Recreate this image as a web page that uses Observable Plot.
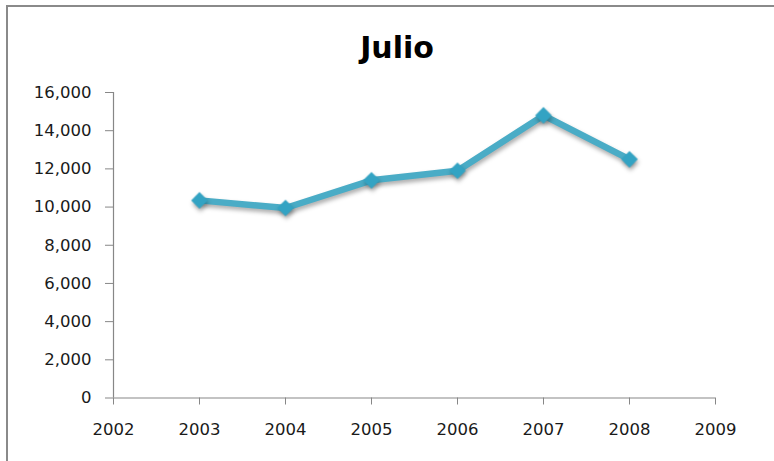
<!DOCTYPE html>
<html>
<head>
<meta charset="utf-8">
<script src="https://cdn.jsdelivr.net/npm/d3@7"></script>
<script src="https://cdn.jsdelivr.net/npm/@observablehq/plot@0.6"></script>
<style>
  html, body { margin: 0; padding: 0; background: #ffffff; }
  #wrap { position: relative; width: 774px; height: 461px; overflow: hidden; }
  #frame {
    position: absolute; left: 6px; top: 5px; width: 800px; height: 500px;
    border-top: 2px solid #8a8a8a; border-left: 2px solid #8a8a8a;
    pointer-events: none; box-sizing: border-box;
  }
  #title {
    width: 794px; height: 70px; box-sizing: border-box; padding-top: 32.6px;
    text-align: center; font-family: "DejaVu Sans", sans-serif; font-weight: bold;
    font-size: 30px; line-height: 30px; color: #000;
  }
  #chart svg { display: block; }
</style>
</head>
<body>
<div id="wrap">
  <div id="title">Julio</div>
  <div id="chart"></div>
  <div id="frame"></div>
</div>
<script>
// Monthly totals for July, by year
const years = [2003, 2004, 2005, 2006, 2007, 2008];
const julio = [10350, 9950, 11400, 11900, 14800, 12500];

// Axis ticks
const xTicks = [2002, 2003, 2004, 2005, 2006, 2007, 2008, 2009];
const yTicks = [0, 2000, 4000, 6000, 8000, 10000, 12000, 14000, 16000];

const data = years.map((year, i) => ({year, value: julio[i]}));

const axisColor = "#878787";
const lineColor = "#4aacc6";
const markerColor = "#33a3c3";

const chart = Plot.plot({
  width: 774,
  height: 391,
  marginLeft: 113,
  marginRight: 59,
  marginTop: 22,
  marginBottom: 63.5,
  x: {domain: [2002, 2009]},
  y: {domain: [0, 16000]},
  style: {fontFamily: "DejaVu Sans, sans-serif", fontSize: "16.5px", background: "#ffffff", color: "#1a1a1a"},
  marks: [
    Plot.ruleX([2002], {stroke: axisColor, strokeWidth: 1.2}),
    Plot.ruleY([0], {stroke: axisColor, strokeWidth: 1.2}),
    Plot.axisY({ticks: yTicks, tickFormat: d3.format(","), tickSize: 8, tickPadding: 14,
                stroke: axisColor, fill: "#1a1a1a", label: null}),
    Plot.axisX({ticks: xTicks, tickFormat: "d", tickSize: 7, tickPadding: 18,
                stroke: axisColor, fill: "#1a1a1a", label: null}),
    Plot.line(data, {x: "year", y: "value", stroke: lineColor, strokeWidth: 6.5,
                     strokeLinejoin: "round", strokeLinecap: "round"}),
    Plot.dot(data, {x: "year", y: "value", symbol: "diamond2", r: 7.5,
                    fill: markerColor, stroke: "none"})
  ]
});

// soft drop shadow under the series line and markers
chart.querySelectorAll('g[aria-label="line"], g[aria-label="dot"]').forEach(g => {
  g.style.filter = "drop-shadow(1px 3px 2px rgba(0,0,0,0.32))";
});

document.getElementById("chart").appendChild(chart);
</script>
</body>
</html>
